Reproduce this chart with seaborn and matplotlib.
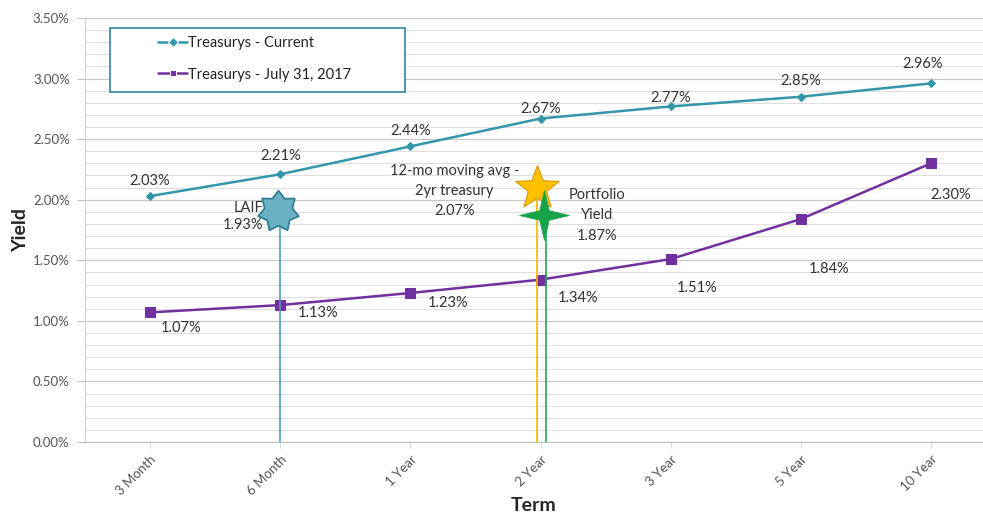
import numpy as np
import pandas as pd
import seaborn as sns
import matplotlib.pyplot as plt
from matplotlib.path import Path
from matplotlib.patches import Rectangle
from matplotlib.ticker import MultipleLocator, PercentFormatter

terms = ["3 Month", "6 Month", "1 Year", "2 Year", "3 Year", "5 Year", "10 Year"]
current = [2.03, 2.21, 2.44, 2.67, 2.77, 2.85, 2.96]
july = [1.07, 1.13, 1.23, 1.34, 1.51, 1.84, 2.30]
laif = 1.93
moving_avg = 2.07
portfolio = 1.87


def star_path(n, inner):
    ang = np.pi / 2 + np.arange(2 * n) * np.pi / n
    r = np.where(np.arange(2 * n) % 2 == 0, 1.0, inner)
    pts = np.column_stack([r * np.cos(ang), r * np.sin(ang)])
    pts = np.vstack([pts, pts[:1]])
    return Path(pts, closed=True)


sns.set_style("white")
plt.rcParams["font.family"] = ["Lato", "DejaVu Sans"]

df = pd.DataFrame({
    "Term": terms * 2,
    "Yield": current + july,
    "Series": ["Treasurys - Current"] * 7 + ["Treasurys - July 31, 2017"] * 7,
})

teal = "#3396AA"
purple = "#7030A0"

fig = plt.figure(figsize=(9.83, 5.15), dpi=100)
ax = fig.add_axes([85 / 983, 1 - 442 / 515, 898 / 983, 424 / 515])

ax = sns.lineplot(data=df, x="Term", y="Yield", hue="Series", style="Series",
                  palette=[teal, purple], markers=["D", "s"], dashes=False,
                  markersize=5, linewidth=1.8, sort=False, ax=ax)
for ln, ms in zip(ax.lines[:2], [4.5, 6.5]):
    ln.set_markersize(ms)
    ln.set_markeredgecolor(ln.get_color())

i6 = terms.index("6 Month")
i2 = terms.index("2 Year")

# LAIF
ax.vlines(i6, 0, laif, color="#4BA3B8", lw=1.2, zorder=3)
ax.plot(i6 - 0.02, laif - 0.02, marker=star_path(7, 0.68), ms=30, color="#6AB2C3",
        mec="#2E7F93", mew=1.3, zorder=5)
# 12-mo moving avg
ax.vlines(i2 - 0.03, 0, moving_avg, color="#F5B800", lw=1.2, zorder=3)
ax.plot(i2 - 0.03, moving_avg + 0.03, marker=star_path(5, 0.42), ms=33, color="#FFC000",
        mec="#D99A00", mew=0.8, zorder=5)
# portfolio
ax.vlines(i2 + 0.04, 0, portfolio, color="#1EA85A", lw=1.2, zorder=3)
ax.plot(i2 + 0.03, portfolio, marker=star_path(4, 0.27), ms=36, color="#17A34A",
        mec="#17A34A", mew=0.5, zorder=6)

# data labels
cur_off = [(0, 11), (0, 13), (0, 11), (0, 7), (0, 6), (0, 11), (-6, 14)]
jul_off = [(22, -11), (27, -5.5), (27, -7), (27, -13), (19, -21), (20, -36), (14, -23)]
for i, v in enumerate(current):
    ax.annotate(f"{v:.2f}%", (i, v), xytext=cur_off[i], textcoords="offset points",
                ha="center", va="center", fontsize=10.5, color="#333333")
for i, v in enumerate(july):
    ax.annotate(f"{v:.2f}%", (i, v), xytext=jul_off[i], textcoords="offset points",
                ha="center", va="center", fontsize=10.5, color="#333333")

ax.annotate(f"LAIF\n{laif:.2f}%", (i6, laif), xytext=(-12, -6), textcoords="offset points",
            ha="right", va="center", fontsize=10.5, color="#333333", linespacing=1.35)
ax.annotate(f"12-mo moving avg -\n2yr treasury\n{moving_avg:.2f}%", (i2, moving_avg),
            xytext=(-62, 0), textcoords="offset points", ha="center", va="center",
            fontsize=10.5, color="#333333", linespacing=1.55)
ax.annotate(f"Portfolio\nYield\n{portfolio:.2f}%", (i2, portfolio),
            xytext=(41, 0), textcoords="offset points", ha="center", va="center",
            fontsize=10.5, color="#333333", linespacing=1.55)

ax.set_xlim(-0.5, 6.4)
ax.set_ylim(0, 3.5)
ax.yaxis.set_major_locator(MultipleLocator(0.5))
ax.yaxis.set_minor_locator(MultipleLocator(0.1))
ax.yaxis.set_major_formatter(PercentFormatter(decimals=2))
ax.grid(which="major", axis="y", color="#C8C8C8", lw=0.9)
ax.grid(which="minor", axis="y", color="#DEDEDE", lw=0.8)
ax.set_axisbelow(True)

for s in ["top", "right"]:
    ax.spines[s].set_visible(False)
ax.spines["left"].set_color("#D0D0D0")
ax.spines["bottom"].set_color("#BFBFBF")
ax.tick_params(axis="y", which="major", left=True, length=6, color="#BFBFBF",
               labelsize=9.5, labelcolor="#555555", pad=5)
ax.tick_params(axis="x", bottom=True, length=4, color="#D9D9D9",
               labelsize=9.5, labelcolor="#555555", pad=4)
plt.setp(ax.get_xticklabels(), rotation=45, ha="right", rotation_mode="anchor")

ax.set_xlabel("Term", fontsize=14, fontweight="bold", labelpad=0)
ax.set_ylabel("Yield", fontsize=14, fontweight="bold", labelpad=3)

# legend: frameless entries inside a separately drawn box
leg = ax.legend(loc="upper left", bbox_to_anchor=(73 / 898, 1 - 18 / 424),
                frameon=False, fontsize=10.5, labelspacing=1.2,
                handlelength=2.0, handletextpad=0.05, borderpad=0,
                borderaxespad=0)
for t in leg.get_texts():
    t.set_color("#222222")
ax.add_patch(Rectangle((25 / 898, 1 - 74 / 424), 295 / 898, 64 / 424,
                       transform=ax.transAxes, fill=True, facecolor="white",
                       edgecolor="#31849B", lw=1.2, zorder=4))

fig.savefig("out.png", dpi=100)
